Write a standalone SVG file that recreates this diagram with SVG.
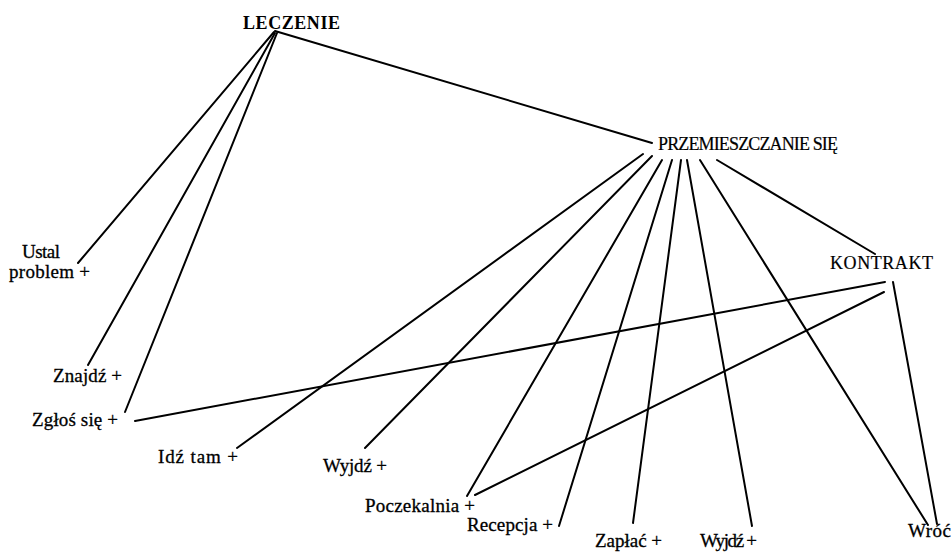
<svg xmlns="http://www.w3.org/2000/svg" width="952" height="552" viewBox="0 0 952 552">
  <style>
    .bg { fill: #ffffff; }
    .edge { stroke: #000000; stroke-width: 2; stroke-linecap: round; fill: none; }
    .lbl { font-family: "Liberation Serif", "Times New Roman", serif; font-size: 19px; fill: #000000; stroke: #000000; stroke-width: 0.3; }
    .hub { font-family: "Liberation Serif", "Times New Roman", serif; font-size: 18px; fill: #000000; stroke: #000000; stroke-width: 0.2; }
    .root { font-family: "Liberation Serif", "Times New Roman", serif; font-size: 18px; font-weight: bold; fill: #000000; }
  </style>
  <rect class="bg" x="0" y="0" width="952" height="552"/>

  <g id="connectors">
    <!-- LECZENIE -->
    <line class="edge" x1="275" y1="31" x2="652" y2="143"/>
    <line class="edge" x1="274" y1="32" x2="78" y2="263"/>
    <line class="edge" x1="275" y1="33" x2="88" y2="365"/>
    <line class="edge" x1="277" y1="33" x2="125" y2="412"/>
    <!-- PRZEMIESZCZANIE SIĘ -->
    <line class="edge" x1="643" y1="154" x2="237" y2="448"/>
    <line class="edge" x1="652" y1="156" x2="365" y2="448"/>
    <line class="edge" x1="662" y1="160" x2="467" y2="496"/>
    <line class="edge" x1="672" y1="160" x2="559" y2="526"/>
    <line class="edge" x1="681" y1="160" x2="633" y2="523"/>
    <line class="edge" x1="687" y1="160" x2="752" y2="526"/>
    <line class="edge" x1="700" y1="160" x2="928" y2="525"/>
    <line class="edge" x1="717" y1="160" x2="875" y2="254"/>
    <!-- KONTRAKT -->
    <line class="edge" x1="885" y1="282" x2="135" y2="421"/>
    <line class="edge" x1="884" y1="292" x2="475" y2="495"/>
    <line class="edge" x1="893" y1="282" x2="937" y2="524"/>
  </g>

  <g id="node-leczenie">
    <text class="root" x="243" y="29" textLength="97">LECZENIE</text>
  </g>
  <g id="node-przemieszczanie">
    <text class="hub" x="658" y="150" textLength="180">PRZEMIESZCZANIE SIĘ</text>
  </g>
  <g id="node-kontrakt">
    <text class="hub" x="830" y="269" textLength="103">KONTRAKT</text>
  </g>
  <g id="node-ustal">
    <text class="lbl" x="22" y="258" textLength="38">Ustal</text>
    <text class="lbl" x="9" y="278" textLength="81">problem +</text>
  </g>
  <g id="node-znajdz">
    <text class="lbl" x="53" y="382" textLength="69">Znajdź +</text>
  </g>
  <g id="node-zglos">
    <text class="lbl" x="32" y="426" textLength="86">Zgłoś się +</text>
  </g>
  <g id="node-idz">
    <text class="lbl" x="158" y="463" textLength="80">Idź tam +</text>
  </g>
  <g id="node-wyjdz1">
    <text class="lbl" x="323" y="472" textLength="64">Wyjdź +</text>
  </g>
  <g id="node-poczekalnia">
    <text class="lbl" x="365" y="512" textLength="110">Poczekalnia +</text>
  </g>
  <g id="node-recepcja">
    <text class="lbl" x="467" y="531" textLength="86">Recepcja +</text>
  </g>
  <g id="node-zaplac">
    <text class="lbl" x="595" y="547" textLength="67">Zapłać +</text>
  </g>
  <g id="node-wyjdz2">
    <text class="lbl" x="700" y="547" textLength="57">Wyjdź +</text>
  </g>
  <g id="node-wroc">
    <text class="lbl" x="908" y="537" textLength="43">Wróć</text>
  </g>
</svg>
